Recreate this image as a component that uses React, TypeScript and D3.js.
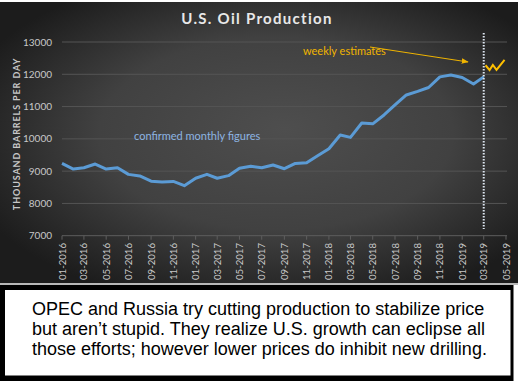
import React from "react";
import * as d3 from "d3";

const W = 518;
const H = 381;

const monthStart = "2016-01";
const monthlyValues = [
  9240, 9065, 9105, 9220, 9065, 9105, 8900, 8850, 8690, 8660, 8680, 8550,
  8780, 8900, 8780, 8860, 9090, 9150, 9105, 9190, 9075, 9240, 9260, 9475,
  9695, 10120, 10045, 10490, 10465, 10740, 11050, 11360, 11470, 11590, 11920, 11975,
  11900, 11700, 11920,
];
const weeklyDates = ["2019-03-06", "2019-03-17", "2019-03-26", "2019-04-05", "2019-04-27"];
const weeklyValues = [12280, 12130, 12290, 12140, 12450];
const yTicks = [7000, 8000, 9000, 10000, 11000, 12000, 13000];
const xTickLabels = [
  "01-2016", "03-2016", "05-2016", "07-2016", "09-2016", "11-2016",
  "01-2017", "03-2017", "05-2017", "07-2017", "09-2017", "11-2017",
  "01-2018", "03-2018", "05-2018", "07-2018", "09-2018", "11-2018",
  "01-2019", "03-2019", "05-2019",
];
const cutoffLabel = "03-2019";
const captionLines = [
  "OPEC and Russia try cutting production to stabilize price",
  "but aren\u2019t stupid. They realize U.S. growth can eclipse all",
  "those efforts; however lower prices do inhibit new drilling.",
];

const parseLabel = (s: string) => {
  const [m, y] = s.split("-");
  return new Date(+y, +m - 1, 1);
};

export default function App() {
  const x = d3
    .scaleTime()
    .domain([parseLabel(xTickLabels[0]), parseLabel(xTickLabels[xTickLabels.length - 1])])
    .range([62, 506]);
  const y = d3.scaleLinear().domain([7000, 13000]).range([235.7, 42]);

  const [sy, sm] = monthStart.split("-").map(Number);
  const monthly = monthlyValues.map((v, i) => ({ d: new Date(sy, sm - 1 + i, 1), v }));
  const weekly = weeklyDates.map((s, i) => {
    const [yy, mm, dd] = s.split("-").map(Number);
    return { d: new Date(yy, mm - 1, dd), v: weeklyValues[i] };
  });

  const line = d3
    .line<{ d: Date; v: number }>()
    .x((p) => x(p.d))
    .y((p) => y(p.v));

  const cutX = x(parseLabel(cutoffLabel));
  const font = "Lato, 'Open Sans', sans-serif";

  return (
    <svg
      width={W}
      height={H}
      style={{ position: "absolute", left: 0, top: 0, display: "block" }}
    >
      <defs>
        <radialGradient id="bg" cx="52%" cy="48%" r="62%" fx="55%" fy="45%">
          <stop offset="0%" stopColor="#4e4e4e" />
          <stop offset="55%" stopColor="#414141" />
          <stop offset="100%" stopColor="#1c1c1c" />
        </radialGradient>
        <marker id="arr" viewBox="0 0 10 10" refX="9" refY="5" markerWidth="7" markerHeight="7" orient="auto">
          <path d="M0,1 L10,5 L0,9 Z" fill="#f0b400" />
        </marker>
      </defs>
      <rect x={0} y={0} width={W} height={H} fill="#ffffff" />
      <rect x={0} y={2} width={W} height={282} fill="url(#bg)" />
      <rect x={0} y={283} width={W} height={2} fill="#b8b8b8" />

      {/* gridlines */}
      {yTicks.map((t) =>
        t === 7000 ? null : (
          <line key={t} x1={62} x2={507} y1={y(t)} y2={y(t)} stroke="#555555" strokeWidth={1} />
        )
      )}
      {/* x axis */}
      <line x1={62} x2={507} y1={y(7000)} y2={y(7000)} stroke="#5e5e5e" strokeWidth={1} />
      {xTickLabels.map((l) => {
        const xx = x(parseLabel(l));
        return (
          <g key={l}>
            <line x1={xx} x2={xx} y1={y(7000)} y2={y(7000) + 4} stroke="#5e5e5e" />
            <text
              transform={`translate(${xx + 3.5},${243}) rotate(-90)`}
              textAnchor="end"
              fontFamily={font}
              fontSize={9.6}
              fill="#c8c8c8"
            >
              {l}
            </text>
          </g>
        );
      })}
      {/* y labels */}
      {yTicks.map((t) => (
        <text
          key={t}
          x={52}
          y={y(t) + 3.5}
          textAnchor="end"
          fontFamily={font}
          fontSize={10}
          fill="#c8c8c8"
        >
          {t}
        </text>
      ))}
      <text
        transform={`translate(20,${134}) rotate(-90)`}
        textAnchor="middle"
        fontFamily={font}
        fontSize={9}
        fontWeight="bold"
        letterSpacing={0.9}
        fill="#c8c8c8"
      >
        THOUSAND BARRELS PER DAY
      </text>

      {/* title */}
      <text
        x={257}
        y={24}
        textAnchor="middle"
        fontFamily={font}
        fontSize={15}
        fontWeight="bold"
        letterSpacing={1.3}
        fill="#e8e8e8"
      >
        U.S. Oil Production
      </text>

      {/* data */}
      <path d={line(monthly) || ""} fill="none" stroke="#5b9bd5" strokeWidth={3} strokeLinejoin="round" />
      <path d={line(weekly) || ""} fill="none" stroke="#ffc000" strokeWidth={2} strokeLinejoin="miter" />
      <line x1={cutX} x2={cutX} y1={33} y2={229} stroke="#dde6f0" strokeWidth={2} strokeDasharray="1.5,1.5" />

      {/* annotations */}
      <text x={134} y={139.5} fontFamily={font} fontSize={11} fill="#8db4e2">
        confirmed monthly figures
      </text>
      <text x={303} y={55} fontFamily={font} fontSize={11} fill="#f0b400">
        weekly estimates
      </text>
      <line x1={370} y1={47} x2={468} y2={62} stroke="#f0b400" strokeWidth={1} markerEnd="url(#arr)" />

      {/* caption box */}
      <rect x={0} y={285} width={513.5} height={96} fill="#000000" />
      <rect x={5} y={290} width={505.5} height={85.5} fill="#ffffff" />
      {captionLines.map((s, i) => (
        <text
          key={i}
          x={32}
          y={315 + i * 20}
          fontFamily="'Liberation Sans', Arial, sans-serif"
          fontSize={18}
          fill="#000000"
        >
          {s}
        </text>
      ))}
    </svg>
  );
}
